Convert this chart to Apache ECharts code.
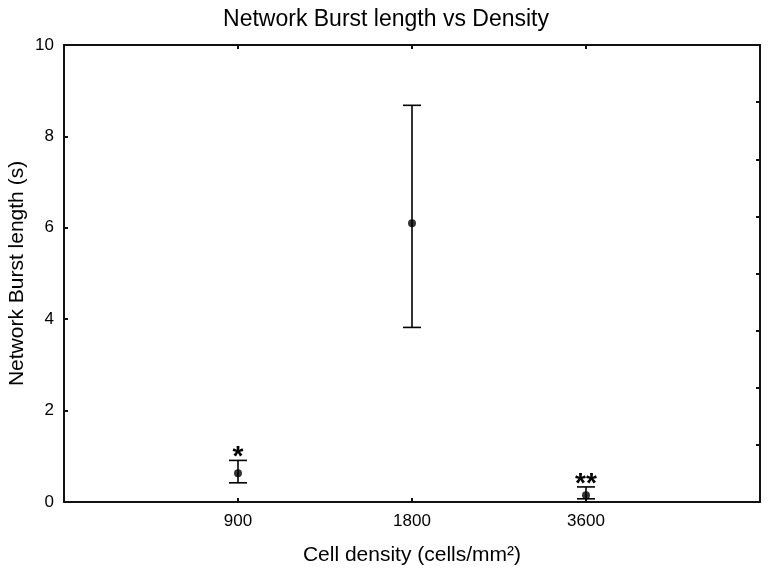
<!DOCTYPE html>
<html>
<head>
<meta charset="utf-8">
<script src="https://cdn.jsdelivr.net/npm/echarts@6/dist/echarts.min.js"></script>
<style>
  html, body { margin: 0; padding: 0; background: #fff; }
  #main { width: 768px; height: 575px; }
</style>
</head>
<body>
<div id="main"></div>
<script>
// cell density groups
var categories = ["900", "1800", "3600"];
// mean burst length (s)
var means = [0.63, 6.1, 0.15];
// error bar ends (s)
var lows = [0.42, 3.82, 0.07];
var highs = [0.91, 8.68, 0.33];
// significance marks above bars
var marks = ["*", "", "**"];

var font = "Liberation Sans, Arial, sans-serif";

var points = means.map(function (m, i) { return [i + 1, m]; });
var bars = means.map(function (m, i) { return [i + 1, lows[i], highs[i], i]; });

var myChart = echarts.init(document.getElementById("main"));

var axisLine = { show: true, onZero: false, lineStyle: { color: "#111", width: 2 } };
var tick = { show: true, inside: true, length: 4, lineStyle: { color: "#111", width: 2 } };

myChart.setOption({
  backgroundColor: "#ffffff",
  animation: false,
  title: {
    text: "Network Burst length vs Density",
    left: 381,
    textAlign: "center",
    top: 3,
    textStyle: { fontFamily: font, fontSize: 23, fontWeight: "normal", color: "#000" },
  },
  grid: { left: 64, right: 8, top: 45, bottom: 73, containLabel: false, outerBoundsMode: "none" },
  xAxis: [
    {
      type: "value",
      min: 0,
      max: 4,
      interval: 1,
      name: "Cell density (cells/mm²)",
      nameLocation: "middle",
      nameGap: 43,
      nameTextStyle: { fontFamily: font, fontSize: 21, color: "#000" },
      axisLine: axisLine,
      axisTick: tick,
      splitLine: { show: false },
      axisLabel: {
        margin: 11,
        fontFamily: font,
        fontSize: 17,
        color: "#000",
        formatter: function (v) { return categories[v - 1] || ""; },
      },
    },
    {
      type: "value",
      position: "top",
      min: 0,
      max: 4,
      interval: 1,
      axisLine: axisLine,
      axisTick: tick,
      axisLabel: { show: false },
      splitLine: { show: false },
    },
  ],
  yAxis: [
    {
      type: "value",
      min: 0,
      max: 10,
      interval: 2,
      name: "Network Burst length (s)",
      nameLocation: "middle",
      nameGap: 36,
      nameMoveOverlap: false,
      nameTextStyle: { fontFamily: font, fontSize: 21, color: "#000" },
      axisLine: axisLine,
      axisTick: tick,
      splitLine: { show: false },
      axisLabel: { margin: 10, fontFamily: font, fontSize: 17, color: "#000" },
    },
    {
      type: "value",
      position: "right",
      min: 0,
      max: 10,
      interval: 1.25,
      axisLine: axisLine,
      axisTick: tick,
      axisLabel: { show: false },
      splitLine: { show: false },
    },
  ],
  series: [
    {
      type: "custom",
      data: bars,
      renderItem: function (params, api) {
        var top = api.coord([api.value(0), api.value(2)]);
        var bot = api.coord([api.value(0), api.value(1)]);
        var x = top[0];
        var hw = 9;
        var style = { stroke: "#000", lineWidth: 1.6 };
        var children = [
          { type: "line", shape: { x1: x, y1: top[1], x2: x, y2: bot[1] }, style: style },
          { type: "line", shape: { x1: x - hw, y1: top[1], x2: x + hw, y2: top[1] }, style: style },
          { type: "line", shape: { x1: x - hw, y1: bot[1], x2: x + hw, y2: bot[1] }, style: style },
        ];
        var mark = marks[api.value(3)];
        if (mark) {
          children.push({
            type: "text",
            style: {
              text: mark,
              x: x,
              y: top[1] - 3,
              align: "center",
              verticalAlign: "middle",
              fontFamily: font,
              fontSize: 28,
              fontWeight: "bold",
              fill: "#000",
            },
          });
        }
        return { type: "group", children: children };
      },
      z: 2,
    },
    {
      type: "scatter",
      data: points,
      symbol: "circle",
      symbolSize: 8,
      itemStyle: { color: "#000" },
      z: 3,
    },
  ],
});
</script>
</body>
</html>
